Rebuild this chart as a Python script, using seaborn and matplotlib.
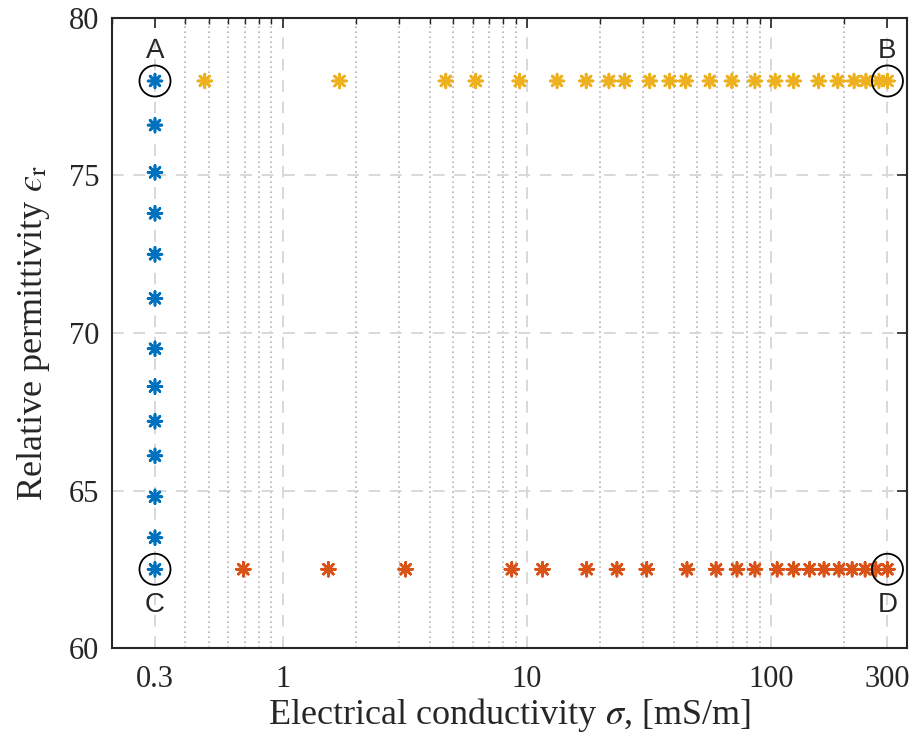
import numpy as np
import pandas as pd
import matplotlib
matplotlib.use("Agg")
import matplotlib.pyplot as plt
import seaborn as sns
from matplotlib.ticker import LogLocator, NullFormatter

# data
blue_x = [0.3] * 13
blue_y = [78.0, 76.6, 75.1, 73.8, 72.5, 71.1, 69.5, 68.3, 67.2, 66.1, 64.8, 63.5, 62.5]

yellow_x = [0.48, 1.71, 4.66, 6.18, 9.36, 13.3, 17.5, 21.7, 25.2, 31.9, 38.5, 44.8,
            56.2, 69.2, 86.0, 104, 124, 157, 188, 219, 245, 277, 300]
yellow_y = [78.0] * len(yellow_x)

red_x = [0.69, 1.54, 3.19, 8.68, 11.6, 17.6, 23.4, 31.0, 45.3, 59.6, 72.6, 86.0,
         106, 124, 144, 165, 190, 215, 243, 269, 300]
red_y = [62.5] * len(red_x)

corner_x = [0.3, 300, 0.3, 300]
corner_y = [78.0, 78.0, 62.5, 62.5]
corner_lbl = ["A", "B", "C", "D"]

xticks = [0.3, 1, 10, 100, 300]
xtick_lbl = ["0.3", "1", "10", "100", "300"]
yticks = [60, 65, 70, 75, 80]

df = pd.DataFrame({
    "sigma": blue_x + yellow_x + red_x,
    "eps": blue_y + yellow_y + red_y,
    "grp": ["blue"] * len(blue_x) + ["yellow"] * len(yellow_x) + ["red"] * len(red_x),
})
pal = {"blue": "#0072BD", "yellow": "#EDB120", "red": "#D95319"}

sns.set_style("white")
plt.rcParams["font.family"] = ["Liberation Serif", "DejaVu Serif"]
plt.rcParams["mathtext.fontset"] = "stix"

fig = plt.figure(figsize=(9.15, 7.4), dpi=100)
ax = fig.add_axes([0.1224, 0.1243, 0.8686, 0.8514])

ax.set_xscale("log")
ax.set_xlim(0.2, 360)
ax.set_ylim(60, 80)

# MATLAB-style asterisk
ast = (8, 2, 0)
sns.scatterplot(data=df, x="sigma", y="eps", hue="grp", palette=pal, marker=ast,
                s=100, linewidth=1.9, legend=False, ax=ax, zorder=3)
for coll in ax.collections:
    coll.set_edgecolors(coll.get_facecolors())

ax.scatter(corner_x, corner_y, s=500, facecolors="none", edgecolors="black",
           linewidths=1.3, zorder=4)
for cx, cy, lb in zip(corner_x, corner_y, corner_lbl):
    dy = 0.95 if cy > 70 else -1.15
    ax.text(cx, cy + dy, lb, ha="center", va="center", fontsize=20,
            family=["Liberation Sans", "DejaVu Sans"])

ax.set_xticks(xticks)
ax.set_xticklabels(xtick_lbl)
ax.xaxis.set_minor_locator(LogLocator(base=10, subs=np.arange(2, 10)))
ax.xaxis.set_minor_formatter(NullFormatter())
ax.set_yticks(yticks)

ax.grid(True, which="major", linestyle=(0, (6, 5)), color="#d8d8d8", linewidth=1.4)
ax.grid(True, which="minor", axis="x", linestyle=(0, (1, 2)), color="#b4b4b4", linewidth=1.2)
ax.set_axisbelow(True)

ax.tick_params(which="both", direction="in", top=True, right=True, labelsize=22,
               color="#262626", labelcolor="#262626")
ax.tick_params(which="major", length=7, width=1.2)
ax.tick_params(which="minor", length=4, width=1.0)
ax.tick_params(axis="x", which="major", pad=12)
ax.tick_params(axis="y", which="major", pad=9)
for sp in ax.spines.values():
    sp.set_color("#262626")
    sp.set_linewidth(1.5)

ax.set_xlabel(r"Electrical conductivity $\sigma$, [mS/m]", fontsize=26, labelpad=2)
ax.set_ylabel("Relative permittivity $\u03f5_{\\mathrm{r}}$", fontsize=26, labelpad=12)

fig.savefig("out.png", dpi=100)
